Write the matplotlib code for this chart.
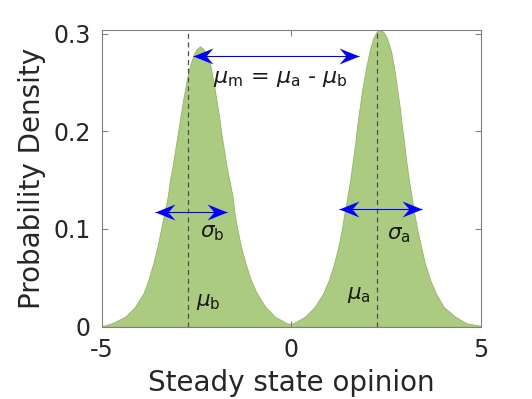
import matplotlib
matplotlib.use("Agg")
import matplotlib.pyplot as plt
from matplotlib.path import Path

# Density curve
opinion = [-5.0, -4.95, -4.73, -4.38, -4.12, -3.90, -3.77, -3.64, -3.53, -3.44,
           -3.35, -3.26, -3.20, -3.14, -3.07, -3.00, -2.93, -2.86, -2.78, -2.69,
           -2.58, -2.50, -2.41, -2.34, -2.28, -2.14, -2.04, -1.97, -1.90, -1.84,
           -1.77, -1.70, -1.63, -1.55, -1.50, -1.42, -1.33, -1.21, -1.07, -0.91,
           -0.69, -0.43, -0.12, -0.03, 0.05, 0.36, 0.62, 0.84, 0.99, 1.13,
           1.24, 1.33, 1.40, 1.48, 1.55, 1.63, 1.69, 1.74, 1.80, 1.86,
           1.97, 2.06, 2.16, 2.25, 2.32, 2.42, 2.52, 2.63, 2.71, 2.80,
           2.86, 2.91, 2.97, 3.02, 3.10, 3.17, 3.24, 3.32, 3.42, 3.52,
           3.66, 3.81, 4.01, 4.32, 4.62, 5.0]
density = [0.0008, 0.001, 0.0035, 0.0102, 0.0205, 0.0342, 0.0478, 0.065, 0.082, 0.0991,
           0.1162, 0.1332, 0.1503, 0.1623, 0.1793, 0.1964, 0.2135, 0.2305, 0.248, 0.265,
           0.278, 0.284, 0.287, 0.285, 0.2818, 0.268, 0.248, 0.2305, 0.2135, 0.1964,
           0.1793, 0.1623, 0.149, 0.1332, 0.1162, 0.0991, 0.082, 0.065, 0.0478, 0.0342,
           0.0205, 0.0102, 0.0035, 0.003, 0.0035, 0.0102, 0.0205, 0.0342, 0.0478, 0.065,
           0.082, 0.0991, 0.1162, 0.1332, 0.1495, 0.1725, 0.1895, 0.2067, 0.2238, 0.2408,
           0.2648, 0.2818, 0.2955, 0.302, 0.304, 0.302, 0.2955, 0.2818, 0.2648, 0.2408,
           0.2238, 0.2067, 0.1895, 0.1725, 0.1495, 0.1332, 0.1162, 0.0991, 0.082, 0.065,
           0.0478, 0.0342, 0.0205, 0.0102, 0.0035, 0.0008]

mu_b = -2.73
mu_a = 2.25
xticks = [-5, 0, 5]
xtick_labels = ["-5", "0", "5"]
yticks = [0, 0.1, 0.2, 0.3]
ytick_labels = ["0", "0.1", "0.2", "0.3"]

# arrows: (x_start, x_end, y)
arrow_m = (-2.6, 1.79, 0.277)
arrow_sb = (-3.59, -1.69, 0.117)
arrow_sa = (1.26, 3.44, 0.1206)

plt.rcParams['mathtext.fontset'] = 'dejavusans'
fig = plt.figure(figsize=(5.32, 3.99), dpi=100)
ax = fig.add_axes([0.1912, 0.1812, 0.9041 - 0.1912, 0.9256 - 0.1812])

ax.fill_between(opinion, density, 0, facecolor=(0.67, 0.8, 0.5),
                edgecolor=(0.56, 0.72, 0.38), linewidth=0.6, zorder=1)

ax.set_xlim(-5, 5)
ax.set_ylim(0, 0.304)
for m in (mu_b, mu_a):
    ax.plot([m, m], [0, 0.304], color=(0.3, 0.3, 0.3), linestyle=(0, (4, 3)),
            linewidth=0.9, zorder=2)

# barbed (vback) arrow heads
codes = [Path.MOVETO, Path.LINETO, Path.LINETO, Path.LINETO, Path.CLOSEPOLY]
head_r = Path([(0, 0), (-20, 8), (-13, 0), (-20, -8), (0, 0)], codes)
head_l = Path([(0, 0), (20, 8), (13, 0), (20, -8), (0, 0)], codes)
ms = 20 * 72 / (0.5 * 100)
for (x0, x1, y) in (arrow_m, arrow_sb, arrow_sa):
    ax.plot([x0, x1], [y, y], color='blue', lw=0.8, zorder=3, solid_capstyle='butt')
    ax.plot([x1], [y], marker=head_r, ms=ms, color='blue', mew=0, zorder=3, ls='none')
    ax.plot([x0], [y], marker=head_l, ms=ms, color='blue', mew=0, zorder=3, ls='none')

tcol = (0.1, 0.1, 0.1)
fs = 15.5
ax.text(-2.06, 0.254, r'$\mu_{\rm m}$ = $\mu_{\rm a}$ - $\mu_{\rm b}$', fontsize=16,
        va='center', ha='left', color=tcol)
ax.text(-2.41, 0.0958, r'$\sigma_{\rm b}$', fontsize=fs, va='center', ha='left', color=tcol)
ax.text(2.51, 0.094, r'$\sigma_{\rm a}$', fontsize=fs, va='center', ha='left', color=tcol)
ax.text(-2.51, 0.0256, r'$\mu_{\rm b}$', fontsize=fs, va='center', ha='left', color=tcol)
ax.text(1.48, 0.0325, r'$\mu_{\rm a}$', fontsize=fs, va='center', ha='left', color=tcol)

ax.set_xticks(xticks)
ax.set_xticklabels(xtick_labels)
ax.set_yticks(yticks)
ax.set_yticklabels(ytick_labels)
ax.tick_params(direction='in', top=True, right=True, length=4, width=0.6,
               color=(0.4, 0.4, 0.4), labelsize=17, labelcolor=(0.15, 0.15, 0.15), pad=8)
for sp in ax.spines.values():
    sp.set_color((0.5, 0.5, 0.5))
    sp.set_linewidth(0.8)
ax.set_xlabel('Steady state opinion', fontsize=20, color=(0.15, 0.15, 0.15), labelpad=5)
ax.set_ylabel('Probability Density', fontsize=20, color=(0.15, 0.15, 0.15), labelpad=5)

fig.savefig('out.png', dpi=100)
